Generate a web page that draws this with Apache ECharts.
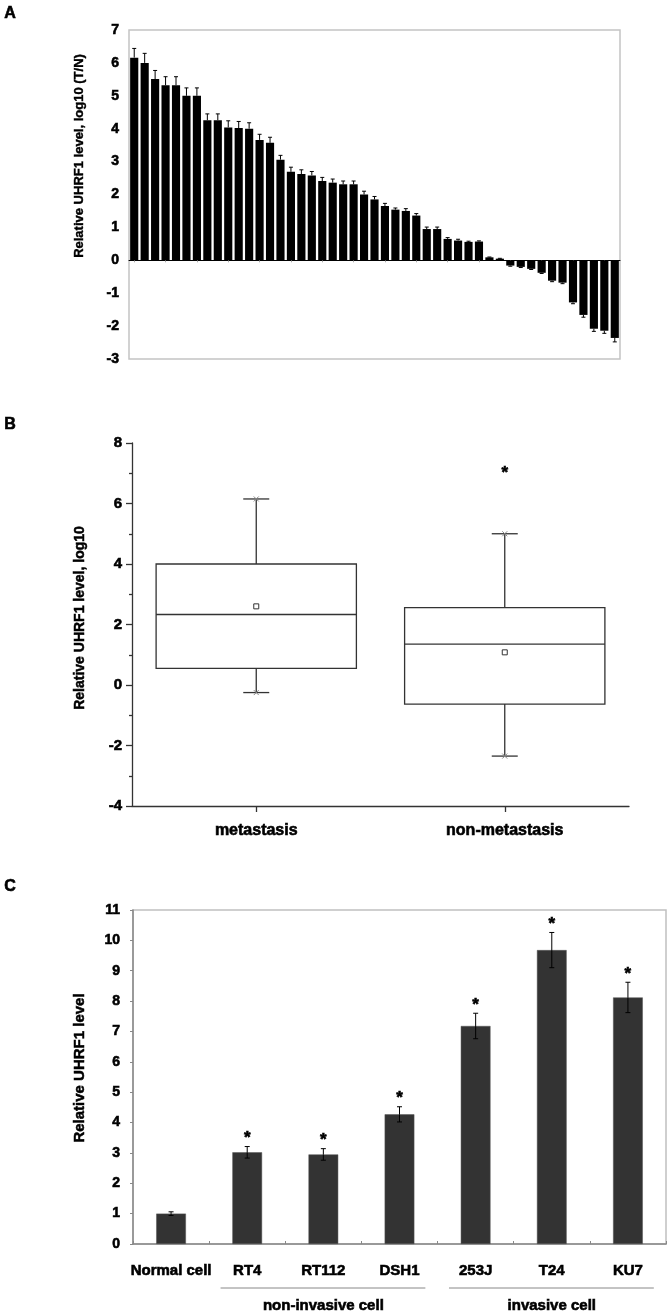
<!DOCTYPE html>
<html><head><meta charset="utf-8">
<script src="https://cdn.jsdelivr.net/npm/echarts@6/dist/echarts.min.js"></script>
<style>html,body{margin:0;padding:0;background:#fff}#c{width:672px;height:1315px}</style>
</head><body><div id="c"></div>
<script>
// ---------- Panel A: per-sample relative UHRF1 level (log10 T/N) ----------
const sampleValues = [6.16,6.0,5.51,5.32,5.32,5.0,5.0,4.26,4.26,4.04,4.02,4.0,3.66,3.57,3.06,2.69,2.62,2.58,2.41,2.36,2.31,2.31,2.0,1.85,1.65,1.54,1.5,1.36,0.95,0.95,0.65,0.6,0.56,0.57,0.09,0.05,-0.16,-0.2,-0.26,-0.38,-0.62,-0.68,-1.28,-1.66,-2.08,-2.14,-2.36];
const sampleErrors = [0.28,0.29,0.26,0.26,0.26,0.24,0.24,0.19,0.19,0.2,0.2,0.18,0.17,0.17,0.13,0.14,0.13,0.12,0.11,0.11,0.1,0.1,0.1,0.09,0.08,0.05,0.07,0.06,0.06,0.06,0.04,0.04,0.02,0.02,0.01,0.01,0.02,0.02,0.02,0.02,0.03,0.03,0.04,0.07,0.08,0.08,0.12];
const sampleNames = sampleValues.map((v, i) => 'T' + (i + 1));
const panelATicks = [-3, 7, 1]; // min, max, interval

// ---------- Panel B: box plot ----------
const boxGroups = ['metastasis', 'non-metastasis'];
const boxLow    = [-0.25, -2.35];
const boxQ1     = [0.55, -0.63];
const boxMedian = [2.33, 1.35];
const boxQ3     = [4.0, 2.56];
const boxHigh   = [6.15, 5.0];
const boxMean   = [2.6, 1.08];
const boxOutlierGroup = [1];
const boxOutlierValue = [7.1];
const panelBTicks = [-4, 8, 2];

// ---------- Panel C: cell lines ----------
const cellLines = ['Normal cell', 'RT4', 'RT112', 'DSH1', '253J', 'T24', 'KU7'];
const cellValues = [1.0, 3.02, 2.95, 4.27, 7.18, 9.68, 8.12];
const cellErrors = [0.06, 0.19, 0.19, 0.25, 0.42, 0.58, 0.5];
const cellSignificant = [0, 1, 1, 1, 1, 1, 1];
const groupNames = ['non-invasive cell', 'invasive cell'];
const groupFirst = ['RT4', '253J'];
const groupLast  = ['DSH1', 'KU7'];
const panelCTicks = [0, 11, 1];

const FONT = '"Liberation Sans", Arial, sans-serif';
const HEAVY = {textBorderColor: '#000', textBorderWidth: 0.6};
const chart = echarts.init(document.getElementById('c'), null, {renderer: 'canvas'});

function heavyText(extra) {
  return Object.assign({fill: '#000', stroke: '#000', lineWidth: 0.6}, extra);
}

function errorBarRender(capHalf, color, withStar) {
  return function (params, api) {
    const x = api.value(0), v = api.value(1), e = api.value(2);
    const end = v >= 0 ? v + e : v - e;
    const p0 = api.coord([x, v]);
    const p1 = api.coord([x, end]);
    const st = {stroke: color, lineWidth: 1};
    const ch = [
      {type: 'line', shape: {x1: p0[0], y1: p0[1], x2: p1[0], y2: p1[1]}, style: st},
      {type: 'line', shape: {x1: p1[0] - capHalf, y1: p1[1], x2: p1[0] + capHalf, y2: p1[1]}, style: st}
    ];
    if (withStar) {
      const lo = api.coord([x, v - e]);
      ch.push({type: 'line', shape: {x1: p0[0], y1: p0[1], x2: lo[0], y2: lo[1]}, style: st});
      ch.push({type: 'line', shape: {x1: lo[0] - capHalf, y1: lo[1], x2: lo[0] + capHalf, y2: lo[1]}, style: st});
      if (api.value(3)) {
        ch.push({type: 'text', style: heavyText({text: '*', x: p1[0], y: p1[1] - 8, align: 'center', verticalAlign: 'middle',
          font: 'bold 17px ' + FONT})});
      }
    }
    return {type: 'group', children: ch};
  };
}

function boxRender(params, api) {
  const x = api.value(0);
  const lo = api.coord([x, api.value(1)]);
  const q1 = api.coord([x, api.value(2)]);
  const md = api.coord([x, api.value(3)]);
  const q3 = api.coord([x, api.value(4)]);
  const hi = api.coord([x, api.value(5)]);
  const mn = api.coord([x, api.value(6)]);
  const band = api.size([1, 0])[0];
  const half = band * 0.403;
  const cx = lo[0];
  const cap = 13;
  const st = {stroke: '#333', lineWidth: 1.3, fill: null};
  const mk = {stroke: '#888', lineWidth: 1};
  function cross(p) {
    return [
      {type: 'line', shape: {x1: p[0] - 2.5, y1: p[1] - 2.5, x2: p[0] + 2.5, y2: p[1] + 2.5}, style: mk},
      {type: 'line', shape: {x1: p[0] - 2.5, y1: p[1] + 2.5, x2: p[0] + 2.5, y2: p[1] - 2.5}, style: mk}
    ];
  }
  return {type: 'group', children: [
    {type: 'rect', shape: {x: cx - half, y: q3[1], width: half * 2, height: q1[1] - q3[1]}, style: {stroke: '#333', lineWidth: 1.3, fill: '#fff'}},
    {type: 'line', shape: {x1: cx - half, y1: md[1], x2: cx + half, y2: md[1]}, style: st},
    {type: 'line', shape: {x1: cx, y1: q3[1], x2: cx, y2: hi[1]}, style: st},
    {type: 'line', shape: {x1: cx, y1: q1[1], x2: cx, y2: lo[1]}, style: st},
    {type: 'line', shape: {x1: cx - cap, y1: hi[1], x2: cx + cap, y2: hi[1]}, style: st},
    {type: 'line', shape: {x1: cx - cap, y1: lo[1], x2: cx + cap, y2: lo[1]}, style: st},
    ...cross(hi), ...cross(lo),
    {type: 'rect', shape: {x: mn[0] - 2.5, y: mn[1] - 2.5, width: 5, height: 5}, style: {stroke: '#333', lineWidth: 1, fill: '#fff'}}
  ]};
}

const labelStyle = (size, margin) => Object.assign({margin: margin, fontSize: size, fontWeight: 'bold', color: '#000', fontFamily: FONT}, HEAVY);

const option = {
  animation: false,
  backgroundColor: '#fff',
  textStyle: {fontFamily: FONT},
  grid: [
    {left: 129, top: 30, width: 491, height: 329, show: true, borderColor: '#c4c4c4', borderWidth: 1.5, backgroundColor: 'transparent'},
    {left: 132, top: 443, width: 497, height: 363},
    {left: 133, top: 910, width: 533, height: 334, show: true, borderColor: '#c0c0c0', borderWidth: 1.5, backgroundColor: 'transparent'}
  ],
  xAxis: [
    {gridIndex: 0, type: 'category', data: sampleNames,
      axisLine: {onZero: true, lineStyle: {color: '#000', width: 1}},
      axisTick: {show: true, alignWithLabel: true, length: 2, lineStyle: {color: '#aaa'}},
      axisLabel: {show: false}, splitLine: {show: false}},
    {gridIndex: 1, type: 'category', data: boxGroups,
      axisLine: {onZero: false, lineStyle: {color: '#333', width: 1.3}},
      axisTick: {show: true, alignWithLabel: true, length: 6, lineStyle: {color: '#333', width: 1.3}},
      axisLabel: labelStyle(16, 17)},
    {gridIndex: 2, type: 'category', data: cellLines,
      axisLine: {onZero: false, lineStyle: {color: '#888', width: 1.5}},
      axisTick: {show: true, inside: true, length: 3, lineStyle: {color: '#888'}},
      axisLabel: Object.assign(labelStyle(15, 19), {interval: 0})}
  ],
  yAxis: [
    {gridIndex: 0, type: 'value', min: panelATicks[0], max: panelATicks[1], interval: panelATicks[2],
      axisLine: {show: false}, axisTick: {show: false}, splitLine: {show: false},
      axisLabel: labelStyle(14, 10)},
    {gridIndex: 1, type: 'value', min: panelBTicks[0], max: panelBTicks[1], interval: panelBTicks[2],
      axisLine: {show: true, lineStyle: {color: '#333', width: 1.3}},
      axisTick: {show: true, length: 6, lineStyle: {color: '#333', width: 1.3}},
      minorTick: {show: true, splitNumber: 2, length: 3, lineStyle: {color: '#333', width: 1.3}},
      splitLine: {show: false},
      axisLabel: labelStyle(15, 10)},
    {gridIndex: 2, type: 'value', min: panelCTicks[0], max: panelCTicks[1], interval: panelCTicks[2],
      axisLine: {show: true, lineStyle: {color: '#888', width: 1.5}},
      axisTick: {show: true, length: 3, lineStyle: {color: '#888'}},
      splitLine: {show: false},
      axisLabel: labelStyle(14, 13)}
  ],
  series: [
    {type: 'bar', xAxisIndex: 0, yAxisIndex: 0, data: sampleValues, barCategoryGap: '22%',
      itemStyle: {color: '#000'}, z: 2},
    {type: 'custom', xAxisIndex: 0, yAxisIndex: 0, renderItem: errorBarRender(2, '#000', false),
      data: sampleValues.map((v, i) => [i, v, sampleErrors[i]]), z: 3},
    {type: 'custom', xAxisIndex: 1, yAxisIndex: 1, renderItem: boxRender,
      data: boxGroups.map((g, i) => [i, boxLow[i], boxQ1[i], boxMedian[i], boxQ3[i], boxHigh[i], boxMean[i]]), z: 3},
    {type: 'custom', xAxisIndex: 1, yAxisIndex: 1,
      renderItem: function (params, api) {
        const p = api.coord([api.value(0), api.value(1)]);
        return {type: 'text', style: heavyText({text: '*', x: p[0], y: p[1] + 3, align: 'center', verticalAlign: 'middle', font: 'bold 17px ' + FONT})};
      },
      data: boxOutlierGroup.map((g, i) => [g, boxOutlierValue[i]]), z: 3},
    {type: 'bar', xAxisIndex: 2, yAxisIndex: 2, data: cellValues, barWidth: '39%',
      itemStyle: {color: '#333', borderColor: '#555', borderWidth: 0.5}, z: 2},
    {type: 'custom', xAxisIndex: 2, yAxisIndex: 2, renderItem: errorBarRender(2.5, '#000', true),
      data: cellValues.map((v, i) => [i, v, cellErrors[i], cellSignificant[i]]), z: 3}
  ]
};
chart.setOption(option);

// Titles, panel letters and group brackets (positions derived from the axes)
const graphics = [
  {type: 'text', left: 4, top: 5, style: heavyText({text: 'A', font: 'bold 16px ' + FONT})},
  {type: 'text', left: 4, top: 416, style: heavyText({text: 'B', font: 'bold 16px ' + FONT})},
  {type: 'text', left: 4, top: 878, style: heavyText({text: 'C', font: 'bold 16px ' + FONT})},
  {type: 'text', x: 79, y: 156, rotation: Math.PI / 2, style: heavyText({text: 'Relative UHRF1 level, log10 (T/N)', font: 'bold 13px ' + FONT, align: 'center', verticalAlign: 'middle', lineWidth: 0.4})},
  {type: 'text', x: 80, y: 618, rotation: Math.PI / 2, style: heavyText({text: 'Relative UHRF1 level, log10', font: 'bold 14px ' + FONT, align: 'center', verticalAlign: 'middle', lineWidth: 0.5})},
  {type: 'text', x: 80, y: 1068, rotation: Math.PI / 2, style: heavyText({text: 'Relative UHRF1 level', font: 'bold 15px ' + FONT, align: 'center', verticalAlign: 'middle', lineWidth: 0.5})}
];
const y0 = chart.convertToPixel({yAxisIndex: 2}, 0);
const bandW = chart.convertToPixel({xAxisIndex: 2}, cellLines[1]) - chart.convertToPixel({xAxisIndex: 2}, cellLines[0]);
groupNames.forEach((name, g) => {
  const xa = chart.convertToPixel({xAxisIndex: 2}, groupFirst[g]);
  const xb = chart.convertToPixel({xAxisIndex: 2}, groupLast[g]);
  graphics.push({type: 'line', shape: {x1: xa - bandW * 0.35, y1: y0 + 44, x2: xb + bandW * 0.34, y2: y0 + 44}, style: {stroke: '#888', lineWidth: 1}});
  graphics.push({type: 'text', x: (xa + xb) / 2, y: y0 + 62, style: heavyText({text: name, font: 'bold 15px ' + FONT, align: 'center', verticalAlign: 'middle'})});
});
chart.setOption({graphic: graphics});
</script>
</body></html>
